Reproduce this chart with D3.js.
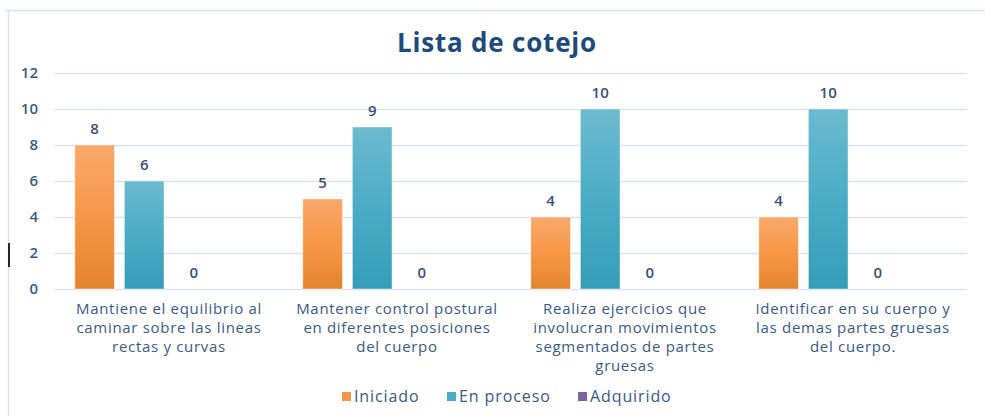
<!DOCTYPE html>
<html><head><meta charset="utf-8">
<script src="https://cdn.jsdelivr.net/npm/d3@7"></script>
<style>body{margin:0;background:#fff}svg{display:block}text{font-family:"Open Sans",sans-serif}</style>
</head><body>
<svg id="c" width="985" height="416"></svg>
<script>
const title = "Lista de cotejo";
const categories = [
  "Mantiene el equilibrio al\ncaminar sobre las lineas\nrectas y curvas",
  "Mantener control postural\nen diferentes posiciones\ndel cuerpo",
  "Realiza ejercicios que\ninvolucran movimientos\nsegmentados de partes\ngruesas",
  "Identificar en su cuerpo y\nlas demas partes gruesas\ndel cuerpo."
];
const seriesNames = ["Iniciado", "En proceso", "Adquirido"];
const iniciado = [8, 5, 4, 4];
const enProceso = [6, 9, 10, 10];
const adquirido = [0, 0, 0, 0];
const yTicks = [0, 2, 4, 6, 8, 10, 12];
const seriesValues = [iniciado, enProceso, adquirido];

const colors = ["#f79646", "#4bacc6", "#8064a2"];
const grads = [["#f9a86c", "#e5842e"], ["#6cbad0", "#359db8"], ["#9a80b8", "#6c5290"]];

const svg = d3.select("#c");
const defs = svg.append("defs");
grads.forEach((g, i) => {
  const lg = defs.append("linearGradient").attr("id", "g" + i).attr("x1", 0).attr("y1", 0).attr("x2", 0).attr("y2", 1);
  lg.append("stop").attr("offset", "0%").attr("stop-color", g[0]);
  lg.append("stop").attr("offset", "50%").attr("stop-color", colors[i]);
  lg.append("stop").attr("offset", "100%").attr("stop-color", g[1]);
});

// chart frame
svg.append("line").attr("x1", 5).attr("x2", 985).attr("y1", 10.5).attr("y2", 10.5).attr("stroke", "#dae4f0").attr("stroke-width", 1.5);
svg.append("line").attr("x1", 8.5).attr("x2", 8.5).attr("y1", 10).attr("y2", 416).attr("stroke", "#dae4f0").attr("stroke-width", 1.5);
svg.append("rect").attr("x", 8).attr("y", 243).attr("width", 2).attr("height", 24).attr("fill", "#2a2620");

const x0 = d3.scaleBand().domain(d3.range(categories.length)).range([55, 967]).paddingInner(0.13).paddingOuter(0.065);
const x1 = d3.scaleBand().domain([0, 1, 2, 3]).range([0, x0.bandwidth()]).paddingInner(0.2).paddingOuter(0.1);
const y = d3.scaleLinear().domain([0, 12]).range([289, 73]);

// gridlines
svg.append("g").selectAll("line").data(yTicks).join("line")
  .attr("x1", 55).attr("x2", 967).attr("y1", d => Math.round(y(d)) + 0.5).attr("y2", d => Math.round(y(d)) + 0.5)
  .attr("stroke", "#d9e3f0").attr("stroke-width", 1.3);

// y axis labels
const yAxis = d3.axisLeft(y).tickValues(yTicks).tickSize(0).tickPadding(0);
const ya = svg.append("g").attr("transform", "translate(38,0)").call(yAxis);
ya.select(".domain").remove();
ya.selectAll("text").attr("font-family", "'Open Sans',sans-serif").attr("font-size", 15).attr("fill", "#3a5a86").attr("font-weight", 600);

// bars
const groups = svg.append("g").selectAll("g").data(categories).join("g")
  .attr("transform", (d, i) => `translate(${x0(i)},0)`);
seriesValues.forEach((vals, s) => {
  groups.append("rect")
    .attr("x", x1(s)).attr("width", x1.bandwidth())
    .attr("y", (d, i) => y(vals[i])).attr("height", (d, i) => y(0) - y(vals[i]))
    .attr("fill", `url(#g${s})`).attr("stroke", "#ffffff").attr("stroke-opacity", 0.45).attr("stroke-width", 1);
  groups.append("text")
    .attr("x", x1(s) + x1.bandwidth() / 2).attr("y", (d, i) => y(vals[i]) - 11)
    .attr("text-anchor", "middle").attr("font-size", 15).attr("font-weight", 600).attr("fill", "#3b4f78")
    .text((d, i) => vals[i]);
});

// category labels
categories.forEach((c, i) => {
  const t = svg.append("text").attr("text-anchor", "middle").attr("font-size", 15).attr("fill", "#3a5a86").attr("letter-spacing", 0.7);
  c.split("\n").forEach((ln, k) => {
    t.append("tspan").attr("x", x0(i) + x0.bandwidth() / 2).attr("y", 314 + k * 19).text(ln);
  });
});

// title
svg.append("text").attr("x", 497).attr("y", 52).attr("text-anchor", "middle")
  .attr("font-size", 26).attr("font-weight", 700).attr("fill", "#1f4a7c").attr("font-family", "Lato,sans-serif")
  .attr("letter-spacing", 0.8).text(title);

// legend
const legX = [342, 447, 578];
seriesNames.forEach((n, i) => {
  svg.append("rect").attr("x", legX[i]).attr("y", 392).attr("width", 9).attr("height", 9).attr("fill", colors[i]);
  svg.append("text").attr("x", legX[i] + 12).attr("y", 402).attr("font-size", 16).attr("fill", "#3a5a86")
    .attr("letter-spacing", 0.9).text(n);
});
</script>
</body></html>
